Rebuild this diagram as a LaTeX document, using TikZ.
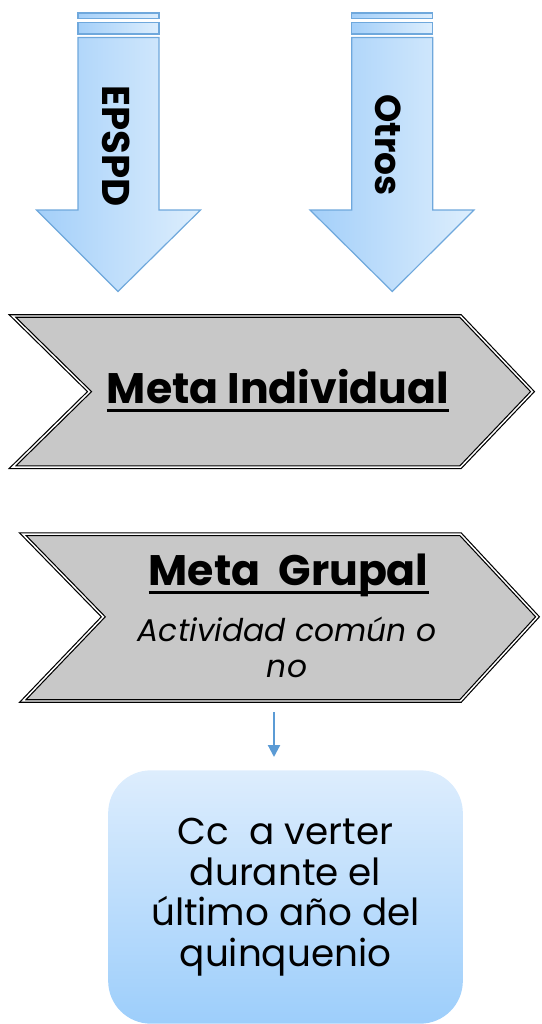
\documentclass[tikz,border=0pt]{standalone}
\usepackage{fontspec}
\setmainfont{Poppins}
\usetikzlibrary{arrows.meta}
\definecolor{arrowline}{HTML}{6FA8DC}
\definecolor{arrowdark}{HTML}{A3CFF9}
\definecolor{arrowlight}{HTML}{DDEEFD}
\definecolor{chevfill}{HTML}{C8C8C8}
\definecolor{linkblue}{HTML}{5B9BD5}
\definecolor{boxtop}{HTML}{DDEDFD}
\definecolor{boxbottom}{HTML}{9DCEFB}
% thick underline used for the chevron titles
\newcommand\thickul[1]{\setbox0\hbox{#1}\rlap{\rule[-6pt]{\wd0}{2.2pt}}\box0}
\tikzset{
  inarrow/.style={draw=arrowline, line width=0.9pt, left color=arrowdark, right color=arrowlight},
  chevron/.style={draw=black, line width=0.9pt, double=white, double distance=1.1pt, fill=chevfill},
  vlabel/.style={rotate=-90, font=\fontsize{#1}{30}\selectfont\bfseries},
  title/.style={anchor=base, font=\fontsize{32}{36}\selectfont\bfseries},
  subtitle/.style={anchor=base, font=\fontsize{23.5}{28}\selectfont\itshape},
  resultbox/.style={draw=none, rounded corners=32pt, top color=boxtop, bottom color=boxbottom,
    minimum width=266pt, minimum height=190pt, align=center,
    font=\fontsize{28}{30.5}\selectfont}
}
\begin{document}
\begin{tikzpicture}[x=0.75pt,y=-0.75pt]
\useasboundingbox (0,0) rectangle (542,1024);

% left incoming arrow
\path[inarrow] (78,13) rectangle (159,18.5);
\path[inarrow] (78,22.5) rectangle (159,34);
\path[inarrow] (78,37.5) -- (159,37.5) -- (159,210) -- (200.5,210) -- (118,291.5)
  -- (36.5,210) -- (78,210) -- cycle;
\node[vlabel=29] (epspd) at (116,146) {EPSPD};

% right incoming arrow
\path[inarrow] (351.7,13) rectangle (432.7,18.5);
\path[inarrow] (351.7,22.5) rectangle (432.7,34);
\path[inarrow] (351.7,37.5) -- (432.7,37.5) -- (432.7,210) -- (474,210) -- (392.3,291.5)
  -- (310,210) -- (351.7,210) -- cycle;
\node[vlabel=27] (otros) at (388,145) {Otros};

% individual goal chevron
\path[chevron] (12.5,316) -- (460.5,316) -- (532.5,391.6) -- (460.5,467.2)
  -- (12.5,467.2) -- (89.5,391.6) -- cycle;
\node[title] (indiv) at (278,403.7) {\thickul{Meta Individual}};

% group goal chevron
\path[chevron] (22.8,534.2) -- (460.5,534.2) -- (537.5,616.8) -- (460.5,701)
  -- (22.8,701) -- (103.3,616.8) -- cycle;
\node[title] (grupal) at (288.6,585.7) {\thickul{Meta\ \ Grupal}};
\node[subtitle] (activ) at (287,641) {Actividad común o};
\node[subtitle] (no) at (287,677) {no};

% link to the result box
\coordinate (from) at (274,712);
\coordinate (to) at (274,757);
\draw[linkblue, line width=1.6pt, -{Triangle[length=9pt,width=9pt]}] (from) -- (to);

% result box
\node[resultbox] (cc) at (285.5,897) {Cc\ \ a verter\\durante el\\último año del\\quinquenio};
\end{tikzpicture}
\end{document}
